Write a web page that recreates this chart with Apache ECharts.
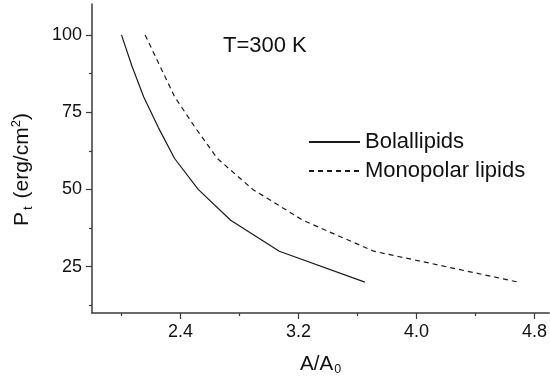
<!DOCTYPE html>
<html>
<head>
<meta charset="utf-8">
<script src="https://cdn.jsdelivr.net/npm/echarts@6/dist/echarts.min.js"></script>
<style>html,body{margin:0;padding:0;background:#fff}#c{width:550px;height:388px}</style>
</head>
<body>
<div id="c"></div>
<script>
// Data
const pressure = [100, 90, 80, 70, 60, 50, 40, 30, 20];
const bolaArea = [2.00, 2.07, 2.15, 2.25, 2.36, 2.52, 2.74, 3.07, 3.65];
const monoArea = [2.16, 2.26, 2.36, 2.50, 2.65, 2.89, 3.23, 3.71, 4.69];
const seriesNames = ['Bolallipids', 'Monopolar lipids'];
const xMajorTicks = [2.4, 3.2, 4.0, 4.8];
const xMinorTicks = [2.0, 2.8, 3.6, 4.4];
const yMajorTicks = [25, 50, 75, 100];
const yMinorTicks = [12.5, 37.5, 62.5, 87.5];
const annotation = 'T=300 K';

const FONT = '"Liberation Sans", Arial, sans-serif';
const axisColor = '#3a3a3a';
const lineColor = '#1a1a1a';

const chart = echarts.init(document.getElementById('c'), null, {renderer: 'canvas'});
const X = {min: 1.8, max: 4.9};
const Y = {min: 10, max: 110};

chart.setOption({
  animation: false,
  backgroundColor: '#fff',
  title: {
    text: annotation, left: 223, top: 35, padding: 0,
    textStyle: {fontFamily: FONT, fontSize: 22, fontWeight: 'normal', color: '#111'}
  },
  legend: {
    left: 308, top: 131, padding: 0, orient: 'vertical', itemWidth: 51, itemHeight: 14, itemGap: 7,
    textStyle: {fontFamily: FONT, fontSize: 22, color: '#111'},
    itemStyle: {opacity: 0},
    data: seriesNames
  },
  grid: {left: 92, right: 0, top: 4, bottom: 75},
  xAxis: [{
    type: 'value', min: X.min, max: X.max, position: 'bottom',
    name: '{a|A/A}{s|0}', nameLocation: 'middle', nameGap: 40,
    nameTextStyle: {rich: {
      a: {fontFamily: FONT, fontSize: 20.5, color: '#111'},
      s: {fontFamily: FONT, fontSize: 12.5, color: '#111', verticalAlign: 'bottom', padding: [10, 0, 0, 1]}
    }},
    axisLine: {show: true, onZero: false, lineStyle: {color: axisColor, width: 1.5}},
    axisTick: {show: true, length: 6, customValues: xMajorTicks, lineStyle: {color: axisColor, width: 1.2}},
    axisLabel: {customValues: xMajorTicks, margin: 10, fontFamily: FONT, fontSize: 18, color: '#111',
      formatter: v => v.toFixed(1)},
    splitLine: {show: false}
  }, {
    type: 'value', min: X.min, max: X.max, position: 'bottom',
    axisLine: {show: false}, axisLabel: {show: false}, splitLine: {show: false},
    axisTick: {show: true, length: 3, customValues: xMinorTicks, lineStyle: {color: axisColor, width: 1.2}}
  }],
  yAxis: [{
    type: 'value', min: Y.min, max: Y.max, position: 'left',
    name: '{a|P}{s|t}{a| (erg/cm}{p|2}{a|)}', nameLocation: 'middle', nameGap: 57,
    nameTextStyle: {padding: [0, 22, 0, 0], rich: {
      a: {fontFamily: FONT, fontSize: 21, color: '#111'},
      s: {fontFamily: FONT, fontSize: 13, color: '#111', padding: [12, 2, 0, 2]},
      p: {fontFamily: FONT, fontSize: 13, color: '#111', padding: [0, 0, 12, 0]}
    }},
    axisLine: {show: true, onZero: false, lineStyle: {color: axisColor, width: 1.5}},
    axisTick: {show: true, length: 6, customValues: yMajorTicks, lineStyle: {color: axisColor, width: 1.2}},
    axisLabel: {customValues: yMajorTicks, margin: 10, fontFamily: FONT, fontSize: 18, color: '#111'},
    splitLine: {show: false}
  }, {
    type: 'value', min: Y.min, max: Y.max, position: 'left',
    axisLine: {show: false}, axisLabel: {show: false}, splitLine: {show: false},
    axisTick: {show: true, length: 3, customValues: yMinorTicks, lineStyle: {color: axisColor, width: 1.2}}
  }],
  series: [{
    name: seriesNames[0], type: 'line', symbol: 'none', xAxisIndex: 0, yAxisIndex: 0,
    data: bolaArea.map((a, i) => [a, pressure[i]]),
    lineStyle: {color: lineColor, width: 1.2, type: 'solid'},
    itemStyle: {color: lineColor}
  }, {
    name: seriesNames[1], type: 'line', symbol: 'none', xAxisIndex: 0, yAxisIndex: 0,
    data: monoArea.map((a, i) => [a, pressure[i]]),
    lineStyle: {color: lineColor, width: 1.2, type: [5, 4]},
    itemStyle: {color: lineColor}
  }]
});
</script>
</body>
</html>
